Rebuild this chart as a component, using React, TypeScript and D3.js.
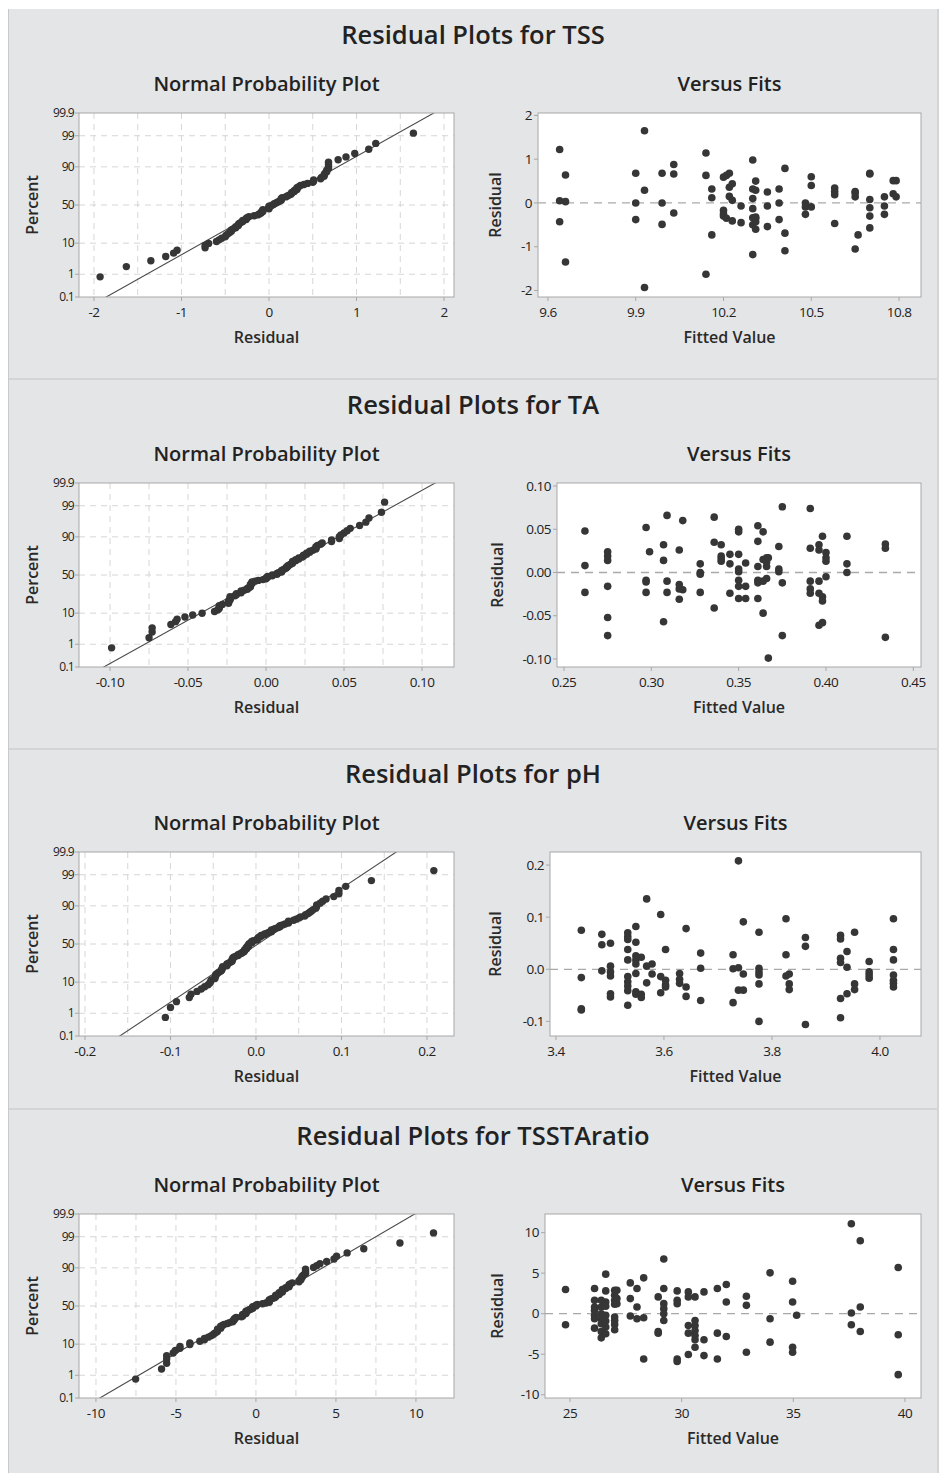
import * as d3 from "d3";

const W = 943;
const H = 1473;

// ---- TSS ----
const tssFits = [
  9.64, 9.64, 9.64, 9.66, 9.66, 9.66, 9.9, 9.9, 9.9, 9.93, 9.93, 9.93,
  9.99, 9.99, 9.99, 10.03, 10.03, 10.03, 10.14, 10.14, 10.14, 10.16, 10.16, 10.16,
  10.2, 10.2, 10.2, 10.2, 10.21, 10.21, 10.22, 10.22, 10.22, 10.23, 10.23, 10.23,
  10.26, 10.26, 10.3, 10.3, 10.3, 10.3, 10.3, 10.3, 10.3,
  10.31, 10.31, 10.31, 10.31, 10.31, 10.31, 10.35, 10.35, 10.35,
  10.39, 10.39, 10.39, 10.41, 10.41, 10.41, 10.48, 10.48, 10.48, 10.5, 10.5, 10.5,
  10.58, 10.58, 10.58, 10.58, 10.65, 10.65, 10.65, 10.65, 10.66,
  10.7, 10.7, 10.7, 10.7, 10.7, 10.7, 10.75, 10.75, 10.75, 10.78, 10.78, 10.79, 10.79,
];
const tssResid = [
  1.22, 0.05, -0.43, 0.64, 0.03, -1.35, 0.68, 0.0, -0.38, 1.65, 0.29, -1.93,
  0.68, 0.0, -0.49, 0.88, 0.66, -0.23, 1.14, 0.63, -1.63, 0.32, 0.12, -0.73,
  0.59, -0.17, -0.25, -0.3, 0.63, -0.35, 0.68, 0.36, 0.15, 0.44, 0.06, -0.41,
  -0.07, -0.45, 0.98, 0.32, 0.1, -0.13, -0.34, -0.5, -1.18,
  0.29, 0.5, -0.35, -0.43, -0.6, -0.32, 0.25, -0.07, -0.54,
  0.32, 0.0, -0.38, 0.79, -0.69, -1.09, 0.0, -0.09, -0.26, 0.6, 0.4, -0.09,
  0.34, 0.26, 0.19, -0.47, 0.26, 0.23, 0.14, -1.05, -0.73,
  0.68, 0.66, 0.08, -0.11, -0.3, -0.57, 0.14, -0.07, -0.26, 0.51, 0.21, 0.51, 0.14,
];
const tssNppTicks = [-2, -1, 0, 1, 2];
const tssNppLabels = ["-2", "-1", "0", "1", "2"];
const tssNppGrid = [-2, -1.5, -1, -0.5, 0, 0.5, 1, 1.5, 2];
const tssFitTicks = [9.6, 9.9, 10.2, 10.5, 10.8];
const tssFitLabels = ["9.6", "9.9", "10.2", "10.5", "10.8"];
const tssResTicks = [-2, -1, 0, 1, 2];
const tssResLabels = ["-2", "-1", "0", "1", "2"];

// ---- TA ----
const taFits = [
  0.262, 0.262, 0.262, 0.275, 0.275, 0.275, 0.275, 0.275, 0.275,
  0.297, 0.297, 0.297, 0.297, 0.299, 0.307, 0.307, 0.307, 0.309, 0.309, 0.309,
  0.316, 0.316, 0.316, 0.316, 0.318, 0.318, 0.328, 0.328, 0.328, 0.328,
  0.336, 0.336, 0.336, 0.34, 0.34, 0.34, 0.34, 0.345, 0.345, 0.345,
  0.35, 0.35, 0.35, 0.35, 0.35, 0.35, 0.35, 0.35, 0.354, 0.354, 0.354,
  0.361, 0.361, 0.361, 0.361, 0.361, 0.361, 0.364, 0.364, 0.364, 0.364,
  0.366, 0.366, 0.366, 0.366, 0.367, 0.367, 0.373, 0.373, 0.373, 0.375, 0.375, 0.375,
  0.391, 0.391, 0.391, 0.391, 0.391, 0.396, 0.396, 0.396, 0.396, 0.396,
  0.398, 0.398, 0.398, 0.398, 0.4, 0.4, 0.4, 0.4, 0.412, 0.412, 0.412, 0.434, 0.434, 0.434,
];
const taResid = [
  0.048, 0.008, -0.023, 0.024, 0.019, 0.014, -0.016, -0.052, -0.073,
  0.052, -0.009, -0.011, -0.023, 0.024, 0.032, 0.014, -0.057, 0.066, -0.01, -0.023,
  0.026, -0.014, -0.019, -0.031, 0.06, -0.02, 0.01, 0.0, -0.002, -0.023,
  0.064, 0.035, -0.041, 0.032, 0.019, 0.016, 0.013, 0.021, 0.01, -0.024,
  0.05, 0.047, 0.021, 0.004, 0.001, -0.009, -0.016, -0.03, 0.011, -0.016, -0.03,
  0.054, 0.036, 0.007, -0.009, -0.012, -0.03, 0.047, 0.015, -0.01, -0.047,
  0.017, 0.012, 0.007, -0.007, 0.017, -0.099, 0.03, 0.004, 0.001, 0.076, -0.012, -0.073,
  0.074, 0.028, -0.01, -0.019, -0.024, 0.032, 0.026, -0.01, -0.024, -0.061,
  0.042, -0.028, -0.033, -0.058, 0.023, 0.017, 0.013, -0.005, 0.042, 0.01, 0.0, 0.033, 0.028, -0.075,
];
const taNppTicks = [-0.1, -0.05, 0, 0.05, 0.1];
const taNppLabels = ["-0.10", "-0.05", "0.00", "0.05", "0.10"];
const taNppGrid = [-0.1, -0.075, -0.05, -0.025, 0, 0.025, 0.05, 0.075, 0.1];
const taFitTicks = [0.25, 0.3, 0.35, 0.4, 0.45];
const taFitLabels = ["0.25", "0.30", "0.35", "0.40", "0.45"];
const taResTicks = [-0.1, -0.05, 0, 0.05, 0.1];
const taResLabels = ["-0.10", "-0.05", "0.00", "0.05", "0.10"];

// ---- pH ----
const phFits = [
  3.447, 3.447, 3.447, 3.447, 3.485, 3.485, 3.485,
  3.501, 3.501, 3.501, 3.501, 3.501, 3.501,
  3.533, 3.533, 3.533, 3.533, 3.533, 3.533, 3.533, 3.533, 3.533, 3.533,
  3.548, 3.548, 3.548, 3.548, 3.548, 3.548, 3.548, 3.548,
  3.558, 3.558, 3.558, 3.568, 3.568, 3.568, 3.578, 3.578,
  3.594, 3.594, 3.594, 3.603, 3.603, 3.603, 3.603, 3.629, 3.629, 3.629,
  3.641, 3.641, 3.641, 3.668, 3.668, 3.668, 3.728, 3.728, 3.728,
  3.738, 3.738, 3.738, 3.747, 3.747, 3.747, 3.776, 3.776, 3.776, 3.776, 3.776, 3.776,
  3.826, 3.826, 3.826, 3.832, 3.832, 3.832, 3.862, 3.862, 3.862,
  3.927, 3.927, 3.927, 3.927, 3.927, 3.927, 3.939, 3.939, 3.939, 3.953, 3.953, 3.953,
  3.98, 3.98, 3.98, 3.98, 4.025, 4.025, 4.025, 4.025, 4.025, 4.025, 4.025,
];
const phResid = [
  0.075, -0.016, -0.076, -0.078, 0.067, 0.047, -0.003,
  0.05, 0.006, -0.013, -0.047, -0.053, -0.005,
  0.07, 0.063, 0.057, 0.038, 0.018, -0.014, -0.024, -0.032, -0.041, -0.069,
  0.082, 0.052, 0.026, 0.018, 0.01, -0.008, -0.043, -0.048,
  0.023, -0.048, -0.054, 0.135, 0.006, -0.026, 0.01, -0.009,
  0.105, -0.014, -0.045, 0.038, -0.021, -0.03, -0.034, -0.008, -0.019, -0.027,
  0.078, -0.034, -0.052, 0.031, 0.002, -0.06, 0.028, 0.001, -0.064,
  0.208, 0.003, -0.04, 0.091, -0.009, -0.04, 0.071, 0.002, -0.005, -0.011, -0.028, -0.1,
  0.097, 0.028, -0.013, -0.009, -0.028, -0.039, 0.061, 0.044, -0.106,
  0.065, 0.058, 0.021, 0.013, -0.056, -0.093, 0.034, 0.004, -0.047, 0.071, -0.028, -0.039,
  0.015, -0.005, -0.011, -0.017, 0.097, 0.038, 0.018, -0.011, -0.021, -0.027, -0.034,
];
const phNppTicks = [-0.2, -0.1, 0, 0.1, 0.2];
const phNppLabels = ["-0.2", "-0.1", "0.0", "0.1", "0.2"];
const phNppGrid = [-0.2, -0.15, -0.1, -0.05, 0, 0.05, 0.1, 0.15, 0.2];
const phFitTicks = [3.4, 3.6, 3.8, 4.0];
const phFitLabels = ["3.4", "3.6", "3.8", "4.0"];
const phResTicks = [-0.1, 0, 0.1, 0.2];
const phResLabels = ["-0.1", "0.0", "0.1", "0.2"];

// ---- TSSTAratio ----
const ratioFits = [
  24.8, 24.8, 26.1, 26.1, 26.1, 26.1, 26.1, 26.1, 26.1,
  26.4, 26.4, 26.4, 26.4, 26.4, 26.4, 26.4,
  26.6, 26.6, 26.6, 26.6, 26.6, 26.6, 26.6, 26.6,
  27.0, 27.0, 27.0, 27.0, 27.0, 27.0, 27.0, 27.0, 27.1, 27.1, 27.1,
  27.7, 27.7, 27.7, 28.0, 28.0, 28.0, 28.3, 28.3, 28.3, 28.95, 28.95, 28.95,
  29.2, 29.2, 29.2, 29.2, 29.2, 29.2, 29.8, 29.8, 29.8, 29.8, 29.8,
  30.3, 30.3, 30.3, 30.3, 30.3, 30.6, 30.6, 30.6, 30.6, 30.6, 30.6, 30.6,
  31.0, 31.0, 31.0, 31.6, 31.6, 31.6, 32.0, 32.0, 32.0, 32.9, 32.9, 32.9,
  33.96, 33.96, 33.96, 34.97, 34.97, 34.97, 34.97, 35.15,
  37.6, 37.6, 37.6, 38.0, 38.0, 38.0, 39.7, 39.7, 39.7,
];
const ratioResid = [
  2.98, -1.36, 3.1, 1.65, 0.83, 0.41, -0.2, -0.62, -1.78,
  1.65, 0.83, 0.0, -0.62, -1.24, -2.2, -2.98,
  4.88, 2.81, 1.45, 0.91, -0.2, -0.91, -1.65, -2.48,
  2.89, 2.27, 1.65, 1.16, -0.41, -0.83, -1.32, -1.98, 2.89, 1.86, 1.24,
  3.8, 1.86, -0.29, 3.1, 0.83, -0.62, 4.42, -0.5, -5.58, 2.07, -2.2, -2.4,
  6.74, 3.1, 1.24, 0.62, 0.0, -0.83, 2.81, 1.65, 1.24, -5.58, -5.9,
  2.69, 2.07, -1.45, -2.4, -5.04, 2.07, -0.83, -1.45, -2.07, -2.69, -3.22, -4.13,
  2.69, -3.22, -5.17, 3.1, -2.4, -5.58, 3.6, 1.45, -2.81, 2.15, 1.03, -4.75,
  5.04, -0.62, -3.51, 4.0, 1.45, -4.75, -4.13, -0.2,
  11.1, 0.08, -1.36, 9.0, 0.83, -2.2, 5.7, -2.6, -7.52,
];
const ratioNppTicks = [-10, -5, 0, 5, 10];
const ratioNppLabels = ["-10", "-5", "0", "5", "10"];
const ratioNppGrid = [-10, -7.5, -5, -2.5, 0, 2.5, 5, 7.5, 10];
const ratioFitTicks = [25, 30, 35, 40];
const ratioFitLabels = ["25", "30", "35", "40"];
const ratioResTicks = [-10, -5, 0, 5, 10];
const ratioResLabels = ["-10", "-5", "0", "5", "10"];

// probability axis
const pctTicks = [0.1, 1, 10, 50, 90, 99, 99.9];
const pctLabels = ["0.1", "1", "10", "50", "90", "99", "99.9"];
const pctGrid = [1, 10, 50, 90, 99];

const FONT = "'Open Sans', 'Noto Sans', sans-serif";
const BG = "#e4e5e7";
const DOT = "#363636";
const INK = "#222";

// inverse standard normal cdf (Acklam)
function qnorm(p: number) {
  const a = [-39.69683028665376, 220.9460984245205, -275.9285104469687, 138.357751867269, -30.66479806614716, 2.506628277459239];
  const b = [-54.47609879822406, 161.5858368580409, -155.6989798598866, 66.80131188771972, -13.28068155288572];
  const c = [-0.007784894002430293, -0.3223964580411365, -2.400758277161838, -2.549732539343734, 4.374664141464968, 2.938163982698783];
  const d = [0.007784695709041462, 0.3224671290700398, 2.445134137142996, 3.754408661907416];
  const pl = 0.02425;
  if (p < pl) {
    const q = Math.sqrt(-2 * Math.log(p));
    return (((((c[0] * q + c[1]) * q + c[2]) * q + c[3]) * q + c[4]) * q + c[5]) / ((((d[0] * q + d[1]) * q + d[2]) * q + d[3]) * q + 1);
  }
  if (p > 1 - pl) {
    const q = Math.sqrt(-2 * Math.log(1 - p));
    return -(((((c[0] * q + c[1]) * q + c[2]) * q + c[3]) * q + c[4]) * q + c[5]) / ((((d[0] * q + d[1]) * q + d[2]) * q + d[3]) * q + 1);
  }
  const q = p - 0.5;
  const r = q * q;
  return ((((((a[0] * r + a[1]) * r + a[2]) * r + a[3]) * r + a[4]) * r + a[5]) * q) / (((((b[0] * r + b[1]) * r + b[2]) * r + b[3]) * r + b[4]) * r + 1);
}

const ZMAX = qnorm(0.999);

const responses = [
  {
    name: "TSS", fits: tssFits, resid: tssResid,
    nppDomain: [-2.171, 2.114], nppTicks: tssNppTicks, nppLabels: tssNppLabels, nppGrid: tssNppGrid,
    fitDomain: [9.566, 10.875], fitTicks: tssFitTicks, fitLabels: tssFitLabels,
    resDomain: [-2.148, 2.055], resTicks: tssResTicks, resLabels: tssResLabels,
  },
  {
    name: "TA", fits: taFits, resid: taResid,
    nppDomain: [-0.1199, 0.1205], nppTicks: taNppTicks, nppLabels: taNppLabels, nppGrid: taNppGrid,
    fitDomain: [0.246, 0.4544], fitTicks: taFitTicks, fitLabels: taFitLabels,
    resDomain: [-0.1093, 0.1035], resTicks: taResTicks, resLabels: taResLabels,
  },
  {
    name: "pH", fits: phFits, resid: phResid,
    nppDomain: [-0.207, 0.2316], nppTicks: phNppTicks, nppLabels: phNppLabels, nppGrid: phNppGrid,
    fitDomain: [3.389, 4.076], fitTicks: phFitTicks, fitLabels: phFitLabels,
    resDomain: [-0.128, 0.225], resTicks: phResTicks, resLabels: phResLabels,
  },
  {
    name: "TSSTAratio", fits: ratioFits, resid: ratioResid,
    nppDomain: [-11.06, 12.38], nppTicks: ratioNppTicks, nppLabels: ratioNppLabels, nppGrid: ratioNppGrid,
    fitDomain: [23.88, 40.72], fitTicks: ratioFitTicks, fitLabels: ratioFitLabels,
    resDomain: [-10.4, 12.3], resTicks: ratioResTicks, resLabels: ratioResLabels,
  },
];

// page layout (pixels)
const layout = [
  { top: 9, bottom: 378, frameTop: 113, vfLeft: 538, vfLabelX: 495 },
  { top: 380, bottom: 748, frameTop: 483, vfLeft: 557, vfLabelX: 497 },
  { top: 750, bottom: 1108, frameTop: 852, vfLeft: 550, vfLabelX: 495 },
  { top: 1110, bottom: 1473, frameTop: 1214, vfLeft: 545, vfLabelX: 497 },
];
const FRAME_H = 184;
const NPP_LEFT = 79;
const NPP_RIGHT = 454;
const VF_RIGHT = 921;

function NppPlot({ r, top, id }: any) {
  const y0 = top;
  const y1 = top + FRAME_H;
  const x = d3.scaleLinear().domain(r.nppDomain).range([NPP_LEFT, NPP_RIGHT]);
  const y = d3.scaleLinear().domain([-ZMAX, ZMAX]).range([y1, y0]);
  const sorted = [...r.resid].sort((a: number, b: number) => a - b);
  const n = sorted.length;
  // median ranks, as Minitab plots them
  const pts = sorted.map((v: number, i: number) => [v, qnorm((i + 1 - 0.3) / (n + 0.4))]);
  const m = d3.mean(sorted) as number;
  const s = d3.deviation(sorted) as number;
  const line = d3.line<number>().x((z) => x(m + s * z)).y((z) => y(z));
  const cx = (NPP_LEFT + NPP_RIGHT) / 2;
  return (
    <g>
      <defs>
        <clipPath id={id}>
          <rect x={NPP_LEFT} y={y0} width={NPP_RIGHT - NPP_LEFT} height={FRAME_H} />
        </clipPath>
      </defs>
      <rect x={NPP_LEFT} y={y0} width={NPP_RIGHT - NPP_LEFT} height={FRAME_H} fill="white" />
      {r.nppGrid.map((g: number) => (
        <line key={"gx" + g} x1={x(g)} x2={x(g)} y1={y0} y2={y1} stroke="#d6d6d6" strokeDasharray="6,5" />
      ))}
      {pctGrid.map((p) => (
        <line key={"gy" + p} x1={NPP_LEFT} x2={NPP_RIGHT} y1={y(qnorm(p / 100))} y2={y(qnorm(p / 100))} stroke="#d6d6d6" strokeDasharray="6,5" />
      ))}
      <path d={line([-ZMAX - 0.3, ZMAX + 0.3]) as string} stroke="#4a4a4a" strokeWidth={1.1} fill="none" clipPath={`url(#${id})`} />
      {pts.map((p: number[], i: number) => (
        <circle key={i} cx={x(p[0])} cy={y(p[1])} r={3.7} fill={DOT} />
      ))}
      <rect x={NPP_LEFT} y={y0} width={NPP_RIGHT - NPP_LEFT} height={FRAME_H} fill="none" stroke="#a8a8a8" />
      {pctTicks.map((p, i) => (
        <g key={"yt" + p}>
          <line x1={NPP_LEFT - 4} x2={NPP_LEFT} y1={y(qnorm(p / 100))} y2={y(qnorm(p / 100))} stroke="#a8a8a8" />
          <text x={NPP_LEFT - 5} y={y(qnorm(p / 100))} dy="0.35em" textAnchor="end" fontSize={12} letterSpacing={-0.7} fill={INK}>
            {pctLabels[i]}
          </text>
        </g>
      ))}
      {r.nppTicks.map((t: number, i: number) => (
        <g key={"xt" + t}>
          <line x1={x(t)} x2={x(t)} y1={y1} y2={y1 + 4} stroke="#a8a8a8" />
          <text x={x(t)} y={y1 + 15} dy="0.35em" textAnchor="middle" fontSize={13.5} letterSpacing={-0.5} fill={INK}>
            {r.nppLabels[i]}
          </text>
        </g>
      ))}
      <text x={cx} y={top - 29} dy="0.35em" textAnchor="middle" fontSize={20} fontWeight={600} fill={INK}>Normal Probability Plot</text>
      <text x={cx} y={y1 + 40} dy="0.35em" textAnchor="middle" fontSize={16} fontWeight={600} fill="#2a2a2a">Residual</text>
      <text transform={`translate(32,${(y0 + y1) / 2}) rotate(-90)`} dy="0.35em" textAnchor="middle" fontSize={16} fontWeight={600} fill="#2a2a2a">Percent</text>
    </g>
  );
}

function FitsPlot({ r, top, left, labelX }: any) {
  const y0 = top;
  const y1 = top + FRAME_H;
  const x = d3.scaleLinear().domain(r.fitDomain).range([left, VF_RIGHT]);
  const y = d3.scaleLinear().domain(r.resDomain).range([y1, y0]);
  const cx = (left + VF_RIGHT) / 2;
  return (
    <g>
      <rect x={left} y={y0} width={VF_RIGHT - left} height={FRAME_H} fill="white" />
      <line x1={left} x2={VF_RIGHT} y1={y(0)} y2={y(0)} stroke="#a9a9a9" strokeWidth={1.3} strokeDasharray="8,6" />
      {r.fits.map((f: number, i: number) => (
        <circle key={i} cx={x(f)} cy={y(r.resid[i])} r={3.8} fill={DOT} />
      ))}
      <rect x={left} y={y0} width={VF_RIGHT - left} height={FRAME_H} fill="none" stroke="#a8a8a8" />
      {r.resTicks.map((t: number, i: number) => (
        <g key={"yt" + t}>
          <line x1={left - 4} x2={left} y1={y(t)} y2={y(t)} stroke="#a8a8a8" />
          <text x={left - 6} y={y(t)} dy="0.35em" textAnchor="end" fontSize={13.5} letterSpacing={-0.5} fill={INK}>
            {r.resLabels[i]}
          </text>
        </g>
      ))}
      {r.fitTicks.map((t: number, i: number) => (
        <g key={"xt" + t}>
          <line x1={x(t)} x2={x(t)} y1={y1} y2={y1 + 4} stroke="#a8a8a8" />
          <text x={x(t)} y={y1 + 15} dy="0.35em" textAnchor="middle" fontSize={13.5} letterSpacing={-0.5} fill={INK}>
            {r.fitLabels[i]}
          </text>
        </g>
      ))}
      <text x={cx} y={top - 29} dy="0.35em" textAnchor="middle" fontSize={20} fontWeight={600} fill={INK}>Versus Fits</text>
      <text x={cx} y={y1 + 40} dy="0.35em" textAnchor="middle" fontSize={16} fontWeight={600} fill="#2a2a2a">Fitted Value</text>
      <text transform={`translate(${labelX},${(y0 + y1) / 2}) rotate(-90)`} dy="0.35em" textAnchor="middle" fontSize={16} fontWeight={600} fill="#2a2a2a">Residual</text>
    </g>
  );
}

export default function App() {
  return (
    <svg width={W} height={H} style={{ position: "absolute", left: 0, top: 0, fontFamily: FONT }}>
      <rect x={0} y={0} width={W} height={H} fill="white" />
      {responses.map((r, k) => {
        const L = layout[k];
        return (
          <g key={r.name}>
            <rect x={8} y={L.top} width={930} height={L.bottom - L.top} fill={BG} />
            <line x1={8} x2={938} y1={L.bottom + 1} y2={L.bottom + 1} stroke="#d3d4d6" strokeWidth={2} />
            <text x={473} y={L.frameTop - 78} dy="0.35em" textAnchor="middle" fontSize={25.5} fontWeight={600} fill={INK}>
              {"Residual Plots for " + r.name}
            </text>
            <NppPlot r={r} top={L.frameTop} id={"clip" + k} />
            <FitsPlot r={r} top={L.frameTop} left={L.vfLeft} labelX={L.vfLabelX} />
          </g>
        );
      })}
      <line x1={8.5} x2={8.5} y1={9} y2={H} stroke="#c9c9cb" />
      <line x1={938} x2={938} y1={9} y2={H} stroke="#d3d4d6" strokeWidth={2} />
    </svg>
  );
}
